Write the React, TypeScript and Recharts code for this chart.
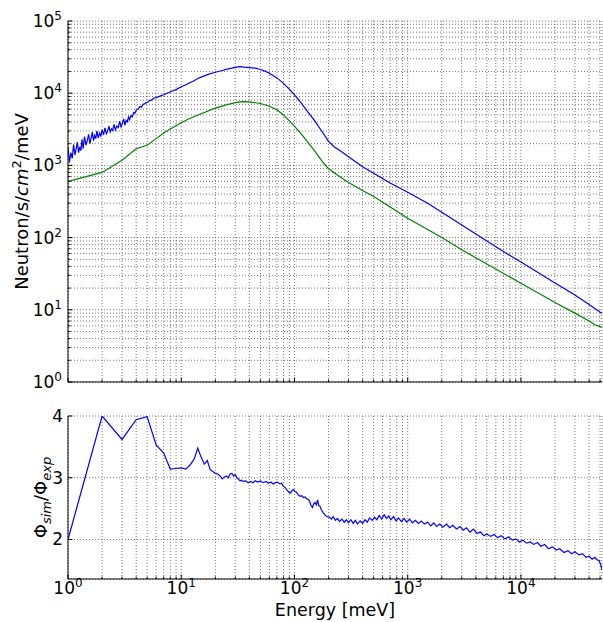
import React from "react";
import { LineChart, Line, XAxis, YAxis, CartesianGrid } from "recharts";

const FONT = "DejaVu Sans, Verdana, sans-serif";
const E_MAX = 52000;

// simulated spectrum (blue)
const blueE = [
  1.0, 1.03, 1.06, 1.09, 1.12, 1.15, 1.18, 1.21, 1.24, 1.27, 1.3, 1.33, 1.36, 1.4, 1.44, 1.48, 1.52, 1.56, 1.6,
  1.64, 1.68, 1.72, 1.76, 1.8, 1.85, 1.9, 1.95, 2.0, 2.06, 2.12, 2.18, 2.24, 2.3, 2.36, 2.42, 2.48, 2.55, 2.62,
  2.7, 2.78, 2.86, 2.94, 3.02, 3.1, 3.18, 3.26, 3.34, 3.42, 3.5, 3.6, 3.7, 3.8, 3.9, 4.0, 4.15, 4.3, 4.45, 4.6,
  4.75, 4.9, 5.05, 5.25, 5.45, 5.7, 6.0, 6.5, 7, 7.5, 8, 8.5, 9, 10, 11, 12, 13, 14, 15, 17, 20, 23, 26, 30, 33,
  36, 40, 45, 50, 55, 60, 70, 80, 90, 100, 115, 130, 150, 175, 200, 225, 250, 300, 400, 500, 700, 1000, 1500,
  2000, 3000, 5000, 7000, 10000, 15000, 20000, 30000, 40000, 52000,
];
const blueFlux = [
  1800, 1100, 1500, 1250, 1950, 1400, 1700, 2100, 1500, 1800, 1600, 2300, 1700, 2500, 1900, 2200, 2700, 2000,
  2400, 2900, 2200, 2600, 2350, 3000, 2400, 2800, 2550, 3100, 2650, 3300, 2750, 3000, 3500, 2900, 3200, 3050,
  3700, 3100, 3500, 3350, 4100, 3400, 3800, 4400, 3600, 4200, 4000, 4700, 4300, 4900, 4700, 5400, 5300, 5800,
  6000, 6500, 6400, 7000, 7100, 7400, 7500, 7900, 8000, 8500, 8700, 9100, 9500, 10000, 10400, 10900, 11200,
  12300, 13100, 14100, 14900, 16000, 16700, 18100, 19500, 20600, 21700, 22800, 23300, 22900, 22600, 22200,
  21300, 20200, 18900, 16300, 13700, 11400, 9500, 7300, 5600, 4200, 2950, 2150, 1800, 1620, 1320, 960, 780,
  570, 425, 300, 225, 150, 90, 64, 46, 31, 23.5, 16, 11.8, 8.9,
];

// measured spectrum (green)
const greenE = [
  1, 2, 3, 4, 5, 6, 7, 8, 10, 12, 15, 20, 25, 30, 35, 40, 50, 60, 70, 80, 100, 120, 150, 175, 200, 250, 300,
  400, 500, 700, 1000, 2000, 3000, 5000, 10000, 20000, 30000, 40000, 45000, 50000, 52000,
];
const greenFlux = [
  600, 800, 1180, 1700, 1900, 2350, 2800, 3200, 3900, 4500, 5200, 6200, 6900, 7400, 7650, 7600, 7200, 6600,
  5900, 5000, 3500, 2500, 1600, 1150, 900, 700, 580, 450, 370, 265, 185, 100, 68, 43, 23.3, 12.6, 9, 7, 6.2,
  5.85, 5.8,
];

// ratio sim / exp
const ratioE = [
  1, 2, 3, 4, 5, 6, 7, 8, 9, 10, 11, 12, 13, 14, 15, 16, 17, 18, 19, 20, 21, 22, 23, 24, 25, 26, 27, 28, 29,
  30, 31, 32, 33, 34, 35, 37, 39, 41, 43, 45, 47, 50, 53, 56, 59, 62, 65, 68, 71, 74, 77, 80, 83, 86, 89, 92,
  95, 98, 101, 104, 108, 112, 116, 120, 124, 128, 132, 136, 140, 144, 148, 152, 156, 160, 164, 168, 172, 178,
  184, 190, 196, 204, 212, 220, 230, 240, 250, 262, 275, 288, 300, 315, 330, 345, 360, 380, 400, 420, 440,
  460, 485, 510, 535, 560, 590, 620, 650, 680, 710, 750, 790, 830, 880, 930, 980, 1040, 1100, 1170, 1240,
  1320, 1400, 1500, 1600, 1700, 1800, 1920, 2050, 2200, 2350, 2500, 2700, 2900, 3100, 3300, 3550, 3800, 4100,
  4400, 4700, 5000, 5400, 5800, 6200, 6700, 7200, 7800, 8400, 9000, 9700, 10400, 11200, 12000, 13000, 14000,
  15000, 16200, 17500, 19000, 20500, 22000, 24000, 26000, 28000, 30000, 32500, 35000, 37500, 40000, 42500,
  45000, 47000, 49000, 50500, 52000,
];
const ratioVal = [
  2.0, 4.0, 3.62, 3.94, 3.99, 3.53, 3.4, 3.14, 3.15, 3.16, 3.14, 3.21, 3.3, 3.48, 3.33, 3.22, 3.28, 3.13, 3.1,
  3.07, 3.06, 3.03, 2.98, 3.01, 3.03, 3.0, 3.06, 3.07, 3.03, 3.05, 3.0, 2.98, 2.95, 2.96, 2.94, 2.95, 2.92,
  2.94, 2.92, 2.95, 2.93, 2.95, 2.92, 2.94, 2.91, 2.93, 2.9, 2.92, 2.93, 2.9, 2.91, 2.86, 2.84, 2.8, 2.77,
  2.75, 2.79, 2.81, 2.78, 2.77, 2.72, 2.7, 2.71, 2.68, 2.69, 2.66, 2.65, 2.62, 2.55, 2.52, 2.58, 2.6, 2.56,
  2.64, 2.55, 2.54, 2.49, 2.44, 2.41, 2.38, 2.37,
  2.36, 2.33, 2.37, 2.31, 2.34, 2.29, 2.33, 2.28, 2.32, 2.27, 2.32, 2.26, 2.31, 2.25, 2.3, 2.26, 2.32, 2.28,
  2.35, 2.31, 2.36, 2.32, 2.39, 2.33, 2.4, 2.34, 2.38, 2.32, 2.37, 2.3, 2.35, 2.29, 2.34, 2.28, 2.33, 2.27,
  2.31, 2.26, 2.3, 2.25, 2.28, 2.22, 2.27, 2.21, 2.25, 2.2, 2.25, 2.19, 2.23, 2.17, 2.21, 2.15, 2.19, 2.12,
  2.17, 2.1, 2.12, 2.06, 2.09, 2.05, 2.08, 2.03, 2.06, 2.01, 2.04, 1.99, 2.01, 1.96, 1.99, 1.94, 1.96, 1.92,
  1.95, 1.89, 1.92, 1.85, 1.88, 1.83, 1.85, 1.79, 1.82, 1.77, 1.8, 1.75, 1.77, 1.71, 1.73, 1.68, 1.71, 1.67,
  1.66, 1.6, 1.51,
];

const decades = [1, 10, 100, 1000, 10000];
const mults = [1, 2, 3, 4, 5, 6, 7, 8, 9];
const xTicks = decades.flatMap((d) => mults.map((m) => m * d)).filter((v) => v <= E_MAX);
const fluxTicks = decades.flatMap((d) => mults.map((m) => m * d)).concat([100000]);
const ratioTicks = [2, 3, 4];

const blueData = blueE.map((e, i) => ({ e, v: blueFlux[i] }));
const greenData = greenE.map((e, i) => ({ e, v: greenFlux[i] }));
const ratioData = ratioE.map((e, i) => ({ e, v: ratioVal[i] }));

const MAJ = 4.5;
const MIN = 2.5;
const TICK_FS = 17;

function isMajor(v: number) {
  const l = Math.log10(v);
  return Math.abs(l - Math.round(l)) < 1e-6;
}

function BottomTick({ x, y, payload, label }: any) {
  const v = payload.value;
  const m = isMajor(v);
  return (
    <g>
      <line x1={x} x2={x} y1={y} y2={y - (m ? MAJ : MIN)} stroke="#000" />
      {label && m && (
        <text x={x} y={y + 15} textAnchor="middle" fontSize={TICK_FS} fontFamily={FONT} fill="#000">
          10<tspan dy={-7} fontSize={12}>{Math.round(Math.log10(v))}</tspan>
        </text>
      )}
    </g>
  );
}

function TopTick({ x, y, payload }: any) {
  const m = isMajor(payload.value);
  return <line x1={x} x2={x} y1={y} y2={y + (m ? MAJ : MIN)} stroke="#000" />;
}

function LeftLogTick({ x, y, payload }: any) {
  const v = payload.value;
  const m = isMajor(v);
  return (
    <g>
      <line x1={x} x2={x + (m ? MAJ : MIN)} y1={y} y2={y} stroke="#000" />
      {m && (
        <text x={x - 6} y={y + 6} textAnchor="end" fontSize={TICK_FS} fontFamily={FONT} fill="#000">
          10<tspan dy={-7} fontSize={12}>{Math.round(Math.log10(v))}</tspan>
        </text>
      )}
    </g>
  );
}

function RightLogTick({ x, y, payload }: any) {
  const m = isMajor(payload.value);
  return <line x1={x} x2={x - (m ? MAJ : MIN)} y1={y} y2={y} stroke="#000" />;
}

function LeftLinTick({ x, y, payload }: any) {
  return (
    <g>
      <line x1={x} x2={x + MAJ} y1={y} y2={y} stroke="#000" />
      <text x={x - 5} y={y + 6} textAnchor="end" fontSize={TICK_FS} fontFamily={FONT} fill="#000">
        {payload.value}
      </text>
    </g>
  );
}

function RightLinTick({ x, y }: any) {
  return <line x1={x} x2={x - MAJ} y1={y} y2={y} stroke="#000" />;
}

function FluxTitle({ viewBox }: any) {
  const cx = viewBox.x + 28;
  const cy = viewBox.y + viewBox.height / 2;
  return (
    <text x={cx} y={cy} transform={`rotate(-90 ${cx} ${cy})`} textAnchor="middle" fontSize={18} fontFamily={FONT} fill="#000">
      Neutron/s/<tspan fontStyle="italic">cm</tspan>
      <tspan dy={-7} fontSize={13}>2</tspan>
      <tspan dy={7}>/meV</tspan>
    </text>
  );
}

function RatioTitle({ viewBox }: any) {
  const cx = viewBox.x + 47;
  const cy = viewBox.y + viewBox.height / 2;
  return (
    <text x={cx} y={cy} transform={`rotate(-90 ${cx} ${cy})`} textAnchor="middle" fontSize={18} fontFamily={FONT} fill="#000">
      Φ<tspan dy={4} fontSize={13} fontStyle="italic">sim</tspan>
      <tspan dy={-4}>/Φ</tspan>
      <tspan dy={4} fontSize={13} fontStyle="italic">exp</tspan>
    </text>
  );
}

function EnergyTitle({ viewBox }: any) {
  const cx = viewBox.x + viewBox.width / 2;
  return (
    <text x={cx} y={viewBox.y + 37} textAnchor="middle" fontSize={17.5} fontFamily={FONT} fill="#000">
      Energy [meV]
    </text>
  );
}

const gridProps = { stroke: "#555", strokeDasharray: "1 2", strokeWidth: 0.8 };
const axisLine = { stroke: "#000", strokeWidth: 1 };

export default function App() {
  return (
    <div style={{ position: "relative", width: 603, height: 622, background: "#fff" }}>
      <style>{"body{margin:0}"}</style>
      <div style={{ position: "absolute", left: 0, top: 0 }}>
        <LineChart width={603} height={400} margin={{ top: 21, right: 1, bottom: 0, left: 0 }}>
          <CartesianGrid {...gridProps} />
          <XAxis dataKey="e" type="number" scale="log" domain={[1, E_MAX]} allowDataOverflow ticks={xTicks}
            interval={0} height={18} tickSize={0} tickMargin={0} tickLine={false} axisLine={axisLine}
            tick={(p: any) => <BottomTick {...p} label={false} />} />
          <XAxis xAxisId="top" orientation="top" dataKey="e" type="number" scale="log" domain={[1, E_MAX]}
            allowDataOverflow ticks={xTicks} interval={0} height={0} tickSize={0} tickMargin={0} tickLine={false}
            axisLine={axisLine} tick={(p: any) => <TopTick {...p} />} />
          <YAxis type="number" scale="log" domain={[1, 100000]} allowDataOverflow ticks={fluxTicks} interval={0}
            width={68} tickSize={0} tickMargin={0} tickLine={false} axisLine={axisLine}
            tick={(p: any) => <LeftLogTick {...p} />}
            label={{ content: (p: any) => <FluxTitle {...p} /> }} />
          <YAxis yAxisId="right" orientation="right" type="number" scale="log" domain={[1, 100000]}
            allowDataOverflow ticks={fluxTicks} interval={0} width={0} tickSize={0} tickMargin={0}
            tickLine={false} axisLine={axisLine} tick={(p: any) => <RightLogTick {...p} />} />
          <Line data={blueData} dataKey="v" type="linear" stroke="#0000ff" strokeWidth={1.2} dot={false}
            isAnimationActive={false} />
          <Line data={greenData} dataKey="v" type="linear" stroke="#008000" strokeWidth={1.2} dot={false}
            isAnimationActive={false} />
        </LineChart>
      </div>
      <div style={{ position: "absolute", left: 0, top: 400 }}>
        <LineChart width={603} height={222} margin={{ top: 16, right: 1, bottom: 0, left: 0 }}>
          <CartesianGrid {...gridProps} />
          <XAxis dataKey="e" type="number" scale="log" domain={[1, E_MAX]} allowDataOverflow ticks={xTicks}
            interval={0} height={43} tickSize={0} tickMargin={0} tickLine={false} axisLine={axisLine}
            tick={(p: any) => <BottomTick {...p} label />}
            label={{ content: (p: any) => <EnergyTitle {...p} /> }} />
          <XAxis xAxisId="top" orientation="top" dataKey="e" type="number" scale="log" domain={[1, E_MAX]}
            allowDataOverflow ticks={xTicks} interval={0} height={0} tickSize={0} tickMargin={0} tickLine={false}
            axisLine={axisLine} tick={(p: any) => <TopTick {...p} />} />
          <YAxis type="number" domain={[1.36, 4]} allowDataOverflow ticks={ratioTicks} interval={0} width={68}
            tickSize={0} tickMargin={0} tickLine={false} axisLine={axisLine}
            tick={(p: any) => <LeftLinTick {...p} />}
            label={{ content: (p: any) => <RatioTitle {...p} /> }} />
          <YAxis yAxisId="right" orientation="right" type="number" domain={[1.36, 4]} allowDataOverflow
            ticks={ratioTicks} interval={0} width={0} tickSize={0} tickMargin={0} tickLine={false}
            axisLine={axisLine} tick={(p: any) => <RightLinTick {...p} />} />
          <Line data={ratioData} dataKey="v" type="linear" stroke="#0000ff" strokeWidth={1.2} dot={false}
            isAnimationActive={false} />
        </LineChart>
      </div>
    </div>
  );
}
